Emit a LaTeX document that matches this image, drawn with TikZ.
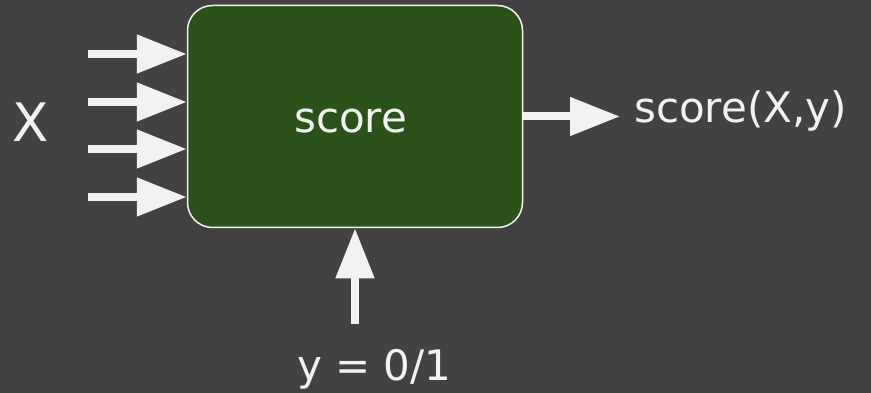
\documentclass[tikz,border=0pt]{standalone}
\usepackage{fontspec}
\setmainfont{DejaVu Sans}
\usetikzlibrary{arrows.meta}
\definecolor{bgdark}{HTML}{424242}
\definecolor{boxgreen}{HTML}{2A5219}
\definecolor{arrowwhite}{HTML}{F2F2F2}
\tikzset{
  fatarrow/.style={draw=arrowwhite, line width=8pt,
    -{Triangle[width=37pt,length=50pt,fill=arrowwhite]}},
  lbl/.style={text=arrowwhite, font=\fontsize{42}{48}\selectfont, inner sep=0pt}
}
\begin{document}
\begin{tikzpicture}[x=1pt,y=-1pt]
\fill[bgdark] (0,0) rectangle (871,393);
\useasboundingbox (0,0) rectangle (871,393);
\node[draw=arrowwhite, line width=1.5pt, fill=boxgreen, rounded corners=25pt,
  minimum width=335pt, minimum height=222pt, inner sep=0pt] (box) at (355,116.5) {};
\node[lbl, anchor=base west] (score) at (294,133) {score};
% inputs
\coordinate (in1) at (88,54);
\coordinate (in2) at (88,102);
\coordinate (in3) at (88,149);
\coordinate (in4) at (88,197);
\draw[fatarrow] (in1) -- (in1 -| box.west);
\draw[fatarrow] (in2) -- (in2 -| box.west);
\draw[fatarrow] (in3) -- (in3 -| box.west);
\draw[fatarrow] (in4) -- (in4 -| box.west);
\node[lbl, anchor=base west, font=\fontsize{53}{60}\selectfont] (xin) at (12,142) {X};
% output
\node[lbl, anchor=base west, inner xsep=14pt] (out) at (620,123) {score(X,y)};
\draw[fatarrow] (box.east) -- (box.east -| out.west);
% label
\coordinate (ybase) at (355,324);
\node[lbl, anchor=base west] (ylbl) at (297,380) {y = 0/1};
\draw[fatarrow] (ybase) -- (box.south);
\end{tikzpicture}
\end{document}
